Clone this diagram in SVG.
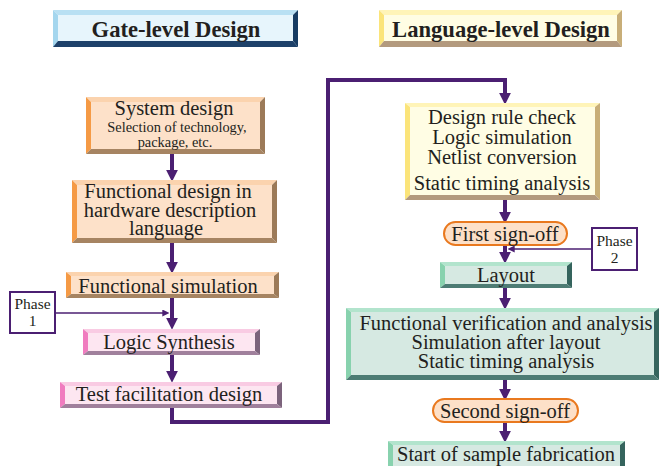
<svg xmlns="http://www.w3.org/2000/svg" width="659" height="466" viewBox="0 0 659 466">
  <style>
    text{font-family:"Liberation Serif","Times New Roman",serif;fill:#231f20;text-anchor:middle}
    .hd{font-weight:bold;font-size:22.6px}
    .lb{font-size:20.5px}
    .sm{font-size:14.4px}
    .ph{font-size:15.5px}
    .flow{fill:none;stroke:#4b1f72;stroke-width:4}
    .thin{fill:none;stroke:#4b1f72;stroke-width:1.6}
    .blue .t{fill:#b9e0f3}.blue .l{fill:#a4d6ee}.blue .r{fill:#173c63}.blue .b{fill:#1d416a}.blue .f{fill:#e7f5fc}
    .yel .t{fill:#fff4b8}.yel .l{fill:#fbe47a}.yel .r{fill:#c8ae78}.yel .b{fill:#b39a7e}.yel .f{fill:#fffde4}
    .peach .t{fill:#fbd3ae}.peach .l{fill:#f59a45}.peach .r{fill:#9c7a58}.peach .b{fill:#a68462}.peach .f{fill:#fde1c9}
    .pink .t{fill:#f9cbe3}.pink .l{fill:#f07cbf}.pink .r{fill:#7c637c}.pink .b{fill:#a0809c}.pink .f{fill:#fde6f1}
    .green .t{fill:#b2e4cd}.green .l{fill:#88d2ae}.green .r{fill:#35645d}.green .b{fill:#4d7c74}.green .f{fill:#d6e9e2}
    .oval{fill:#fde0c8;stroke:#e9791f;stroke-width:2}
    .phase{fill:#fff;stroke:#4b1f72;stroke-width:2}
  </style>
  <defs>
    <marker id="head" viewBox="0 0 10 10" refX="1" refY="5" markerWidth="12" markerHeight="12" markerUnits="userSpaceOnUse" orient="auto">
      <path d="M0,0 L10,5 L0,10 z" fill="#4b1f72"/>
    </marker>
    <marker id="headSm" viewBox="0 0 10 10" refX="1" refY="5" markerWidth="7" markerHeight="7" markerUnits="userSpaceOnUse" orient="auto">
      <path d="M0,0 L10,5 L0,10 z" fill="#4b1f72"/>
    </marker>
  </defs>

  <!-- section headers -->
  <g id="gate-level" class="blue">
    <polygon class="t" points="53,10 298,10 293,15 58,15"/>
    <polygon class="l" points="53,10 58,15 58,41 53,47"/>
    <polygon class="r" points="298,10 298,47 293,41 293,15"/>
    <polygon class="b" points="53,47 58,41 293,41 298,47"/>
    <rect class="f" x="58" y="15" width="235" height="26"/>
    <text class="hd" x="176" y="37">Gate-level Design</text>
  </g>
  <g id="language-level" class="yel">
    <polygon class="t" points="379,10 622,10 617,15 384,15"/>
    <polygon class="l" points="379,10 384,15 384,41 379,47"/>
    <polygon class="r" points="622,10 622,47 617,41 617,15"/>
    <polygon class="b" points="379,47 384,41 617,41 622,47"/>
    <rect class="f" x="384" y="15" width="233" height="26"/>
    <text class="hd" x="501" y="37">Language-level Design</text>
  </g>

  <!-- connectors -->
  <g id="connectors">
    <line class="flow" x1="172" y1="154" x2="172" y2="171" marker-end="url(#head)"/>
    <line class="flow" x1="172" y1="243" x2="172" y2="263" marker-end="url(#head)"/>
    <line class="flow" x1="172" y1="298" x2="172" y2="319" marker-end="url(#head)"/>
    <line class="flow" x1="172" y1="355" x2="172" y2="372" marker-end="url(#head)"/>
    <polyline class="flow" points="172,408 172,422 328,422 328,80 505,80 505,94" marker-end="url(#head)"/>
    <line class="flow" x1="505" y1="200" x2="505" y2="213" marker-end="url(#head)"/>
    <line class="flow" x1="505" y1="245" x2="505" y2="253" marker-end="url(#head)"/>
    <line class="flow" x1="505" y1="288" x2="505" y2="299" marker-end="url(#head)"/>
    <line class="flow" x1="505" y1="380" x2="505" y2="390" marker-end="url(#head)"/>
    <line class="flow" x1="505" y1="422" x2="505" y2="432" marker-end="url(#head)"/>
    <line class="thin" x1="55" y1="313" x2="163" y2="313" marker-end="url(#headSm)"/>
    <line class="thin" x1="592" y1="249" x2="514" y2="249" marker-end="url(#headSm)"/>
  </g>

  <!-- gate-level flow -->
  <g id="system-design" class="peach">
    <polygon class="t" points="86,97 265,97 260,102 91,102"/>
    <polygon class="l" points="86,97 91,102 91,149 86,154"/>
    <polygon class="r" points="265,97 265,154 260,149 260,102"/>
    <polygon class="b" points="86,154 91,149 260,149 265,154"/>
    <rect class="f" x="91" y="102" width="169" height="47"/>
    <text class="lb" x="174" y="115">System design</text>
    <text class="sm" x="177" y="132">Selection of technology,</text>
    <text class="sm" x="175" y="147">package, etc.</text>
  </g>
  <g id="functional-design" class="peach">
    <polygon class="t" points="72,180 277,180 272,185 77,185"/>
    <polygon class="l" points="72,180 77,185 77,238 72,243"/>
    <polygon class="r" points="277,180 277,243 272,238 272,185"/>
    <polygon class="b" points="72,243 77,238 272,238 277,243"/>
    <rect class="f" x="77" y="185" width="195" height="53"/>
    <text class="lb" x="168" y="198">Functional design in</text>
    <text class="lb" x="170" y="217">hardware description</text>
    <text class="lb" x="166" y="235">language</text>
  </g>
  <g id="functional-simulation" class="peach">
    <polygon class="t" points="66,272 279,272 274,276 71,276"/>
    <polygon class="l" points="66,272 71,276 71,294 66,298"/>
    <polygon class="r" points="279,272 279,298 274,294 274,276"/>
    <polygon class="b" points="66,298 71,294 274,294 279,298"/>
    <rect class="f" x="71" y="276" width="203" height="18"/>
    <text class="lb" x="168" y="293">Functional simulation</text>
  </g>
  <g id="phase-1">
    <rect class="phase" x="10" y="292" width="45" height="41"/>
    <text class="ph" x="32.5" y="309">Phase</text>
    <text class="ph" x="32.5" y="326">1</text>
  </g>
  <g id="logic-synthesis" class="pink">
    <polygon class="t" points="83,329 260,329 255,333 88,333"/>
    <polygon class="l" points="83,329 88,333 88,351 83,355"/>
    <polygon class="r" points="260,329 260,355 255,351 255,333"/>
    <polygon class="b" points="83,355 88,351 255,351 260,355"/>
    <rect class="f" x="88" y="333" width="167" height="18"/>
    <text class="lb" x="169" y="349">Logic Synthesis</text>
  </g>
  <g id="test-facilitation" class="pink">
    <polygon class="t" points="60,382 282,382 277,386 65,386"/>
    <polygon class="l" points="60,382 65,386 65,404 60,408"/>
    <polygon class="r" points="282,382 282,408 277,404 277,386"/>
    <polygon class="b" points="60,408 65,404 277,404 282,408"/>
    <rect class="f" x="65" y="386" width="212" height="18"/>
    <text class="lb" x="169" y="401">Test facilitation design</text>
  </g>

  <!-- language-level flow -->
  <g id="rule-check" class="yel">
    <polygon class="t" points="405,103 600,103 595,107 410,107"/>
    <polygon class="l" points="405,103 410,107 410,195 405,200"/>
    <polygon class="r" points="600,103 600,200 595,195 595,107"/>
    <polygon class="b" points="405,200 410,195 595,195 600,200"/>
    <rect class="f" x="410" y="107" width="185" height="88"/>
    <text class="lb" x="502" y="124">Design rule check</text>
    <text class="lb" x="502" y="144">Logic simulation</text>
    <text class="lb" x="502" y="164">Netlist conversion</text>
    <text class="lb" x="502" y="190">Static timing analysis</text>
  </g>
  <g id="first-signoff">
    <rect class="oval" x="444" y="222" width="123" height="23" rx="11.5"/>
    <text class="lb" x="505" y="241">First sign-off</text>
  </g>
  <g id="phase-2">
    <rect class="phase" x="592" y="228" width="45" height="42"/>
    <text class="ph" x="614.5" y="246">Phase</text>
    <text class="ph" x="614.5" y="263">2</text>
  </g>
  <g id="layout" class="green">
    <polygon class="t" points="440,262 572,262 567,266 445,266"/>
    <polygon class="l" points="440,262 445,266 445,284 440,288"/>
    <polygon class="r" points="572,262 572,288 567,284 567,266"/>
    <polygon class="b" points="440,288 445,284 567,284 572,288"/>
    <rect class="f" x="445" y="266" width="122" height="18"/>
    <text class="lb" x="506" y="282">Layout</text>
  </g>
  <g id="verification" class="green">
    <polygon class="t" points="346,308 659,308 654,312 351,312"/>
    <polygon class="l" points="346,308 351,312 351,375 346,380"/>
    <polygon class="r" points="659,308 659,380 654,375 654,312"/>
    <polygon class="b" points="346,380 351,375 654,375 659,380"/>
    <rect class="f" x="351" y="312" width="303" height="63"/>
    <text class="lb" x="506" y="330">Functional verification and analysis</text>
    <text class="lb" x="506" y="349">Simulation after layout</text>
    <text class="lb" x="506" y="368">Static timing analysis</text>
  </g>
  <g id="second-signoff">
    <rect class="oval" x="433" y="399" width="145" height="23" rx="11.5"/>
    <text class="lb" x="505" y="418">Second sign-off</text>
  </g>
  <g id="fabrication" class="green">
    <polygon class="t" points="388,441 625,441 620,445 393,445"/>
    <polygon class="l" points="388,441 393,445 393,466 388,466"/>
    <polygon class="r" points="625,441 625,466 620,466 620,445"/>
    <rect class="f" x="393" y="445" width="227" height="21"/>
    <text class="lb" x="506" y="461">Start of sample fabrication</text>
  </g>
</svg>
